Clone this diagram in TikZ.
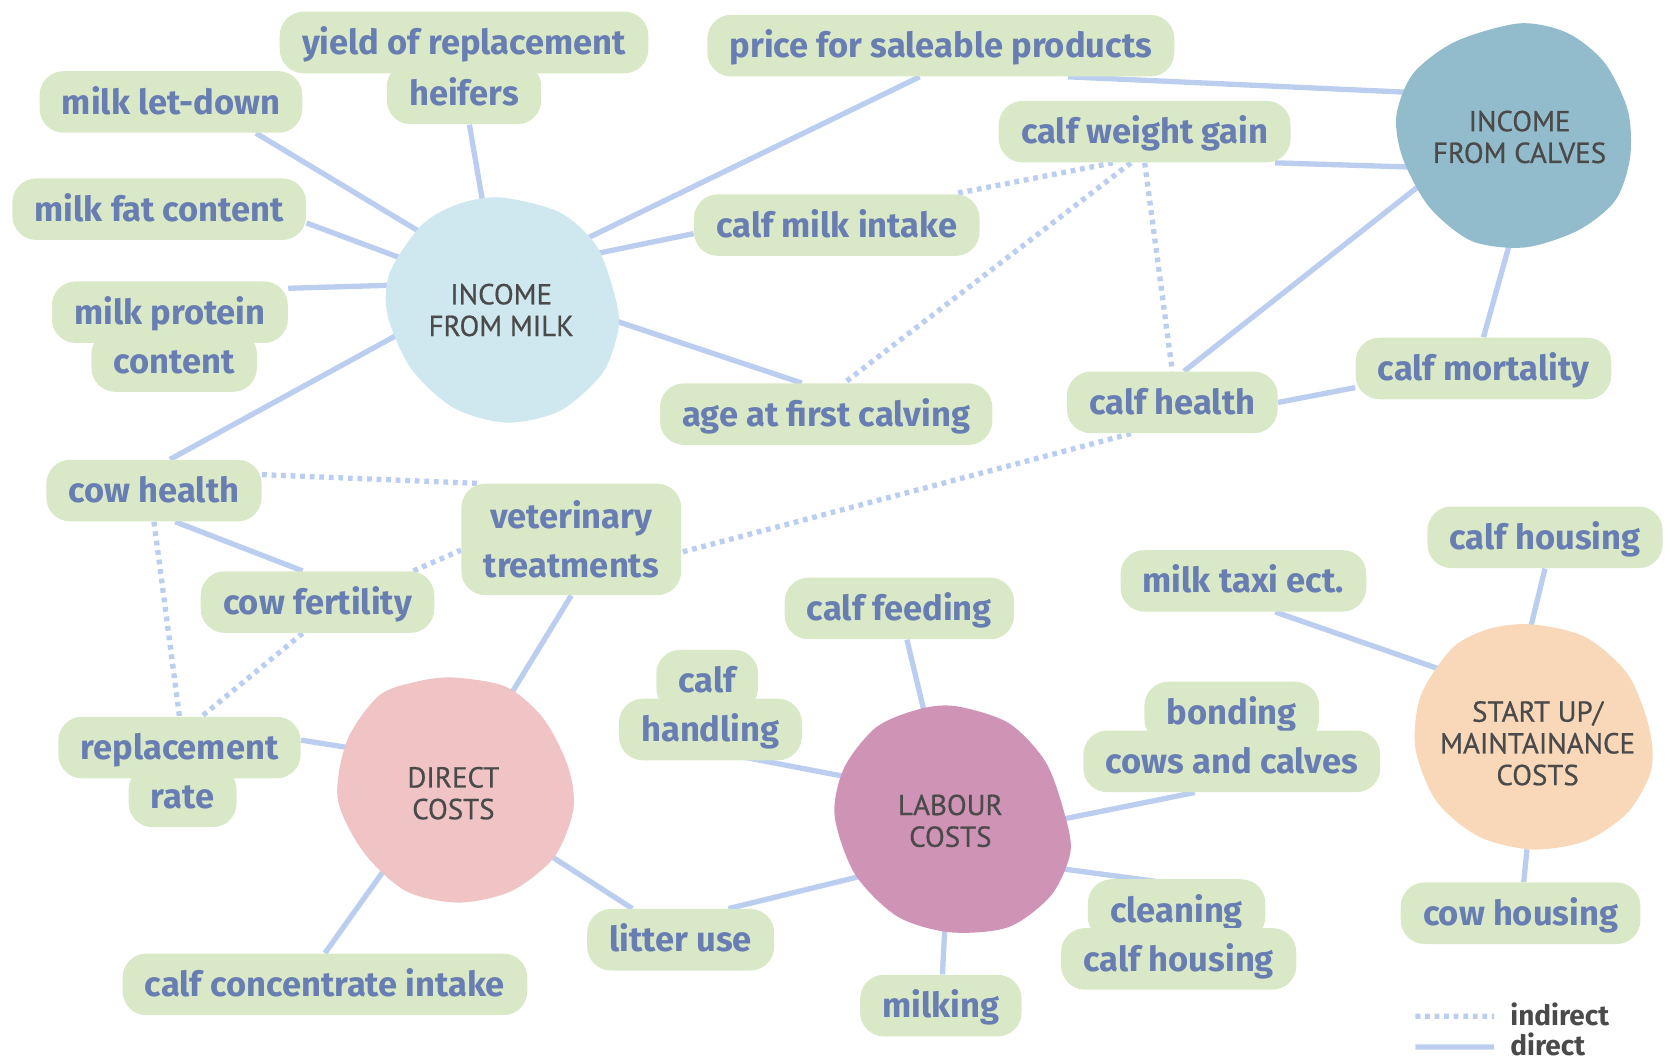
\documentclass[tikz,border=0pt]{standalone}
\usepackage{fontspec}
\setmainfont{Fira Sans}
\newfontfamily\lblfont{Fira Sans}
\newfontfamily\hubfont[FakeBold=0.6]{PT Sans}
\definecolor{lblgreen}{RGB}{217,232,198}
\definecolor{lbltext}{RGB}{104,125,178}
\definecolor{linkblue}{RGB}{187,206,240}
\definecolor{hubtext}{RGB}{74,74,74}
\definecolor{milkblue}{RGB}{207,231,239}
\definecolor{calfblue}{RGB}{146,188,203}
\definecolor{directpink}{RGB}{240,195,196}
\definecolor{labourmauve}{RGB}{207,147,181}
\definecolor{startpeach}{RGB}{248,216,185}
\pgfdeclarelayer{links}
\pgfdeclarelayer{blobs}
\pgfsetlayers{links,blobs,main}

\begin{document}
\begin{tikzpicture}
[x=0.02cm,y=-0.02cm,
lbl/.style={rounded corners=0.45cm,fill=lblgreen,text=lbltext,font=\lblfont\bfseries\fontsize{18.5pt}{26pt}\selectfont,minimum height=1.16cm,inner xsep=0.42cm,text height=15pt,text depth=2pt},
hub/.style={circle,minimum size=3.9cm,inner sep=0pt,align=center,text=hubtext,font=\hubfont\fontsize{15.5pt}{17pt}\selectfont},
direct/.style={linkblue,line width=0.1cm},
indirect/.style={linkblue,line width=0.1cm,dash pattern=on 0.09cm off 0.09cm},
legend/.style={text=hubtext,font=\bfseries\fontsize{15pt}{16pt}\selectfont,anchor=west,inner sep=0pt}]
\useasboundingbox (0,0) rectangle (1568,1001);
\node[hub] (milkinc) at (472,292) {INCOME\\FROM MILK};
\node[hub] (calfinc) at (1431,129) {INCOME\\FROM CALVES};
\node[hub] (dcost) at (427,747) {DIRECT\\COSTS};
\node[hub] (lcost) at (895,773) {LABOUR\\COSTS};
\node[hub] (scost) at (1448,700) {START UP/\\MAINTAINANCE\\COSTS};
\node[lbl] (mlet) at (161,96) {milk let-down};
\node[lbl] (mfat) at (150,197) {milk fat content};
\node[lbl] (mprot) at (160,294) {milk protein};
\node[lbl] (mprot2) at (164,340) {content};
\node[lbl] (yield) at (437,40) {yield of replacement};
\node[lbl] (yield2) at (437,88) {heifers};
\node[lbl] (price) at (886,43) {price for saleable products};
\node[lbl] (wgain) at (1078,124) {calf weight gain};
\node[lbl] (intake) at (788,212) {calf milk intake};
\node[lbl] (age) at (778,390) {age at first calving};
\node[lbl] (chealth) at (1104,379) {calf health};
\node[lbl] (cmort) at (1397,347) {calf mortality};
\node[lbl] (cowh) at (145,462) {cow health};
\node[lbl,align=center,minimum height=2.1cm,text height=,text depth=] (vet) at (538,508) {veterinary\\treatments};
\node[lbl] (fert) at (299,567) {cow fertility};
\node[lbl] (repl) at (169,704) {replacement};
\node[lbl] (repl2) at (172,750) {rate};
\node[lbl] (conc) at (306,927) {calf concentrate intake};
\node[lbl] (litter) at (641,885) {litter use};
\node[lbl] (handl) at (666,641) {calf};
\node[lbl] (handl2) at (669,687) {handling};
\node[lbl] (feed) at (847,573) {calf feeding};
\node[lbl] (milking) at (886,947) {milking};
\node[lbl] (bond) at (1160,671) {bonding};
\node[lbl] (bond2) at (1160,717) {cows and calves};
\node[lbl] (clean) at (1108,857) {cleaning};
\node[lbl] (clean2) at (1110,903) {calf housing};
\node[lbl] (taxi) at (1171,547) {milk taxi ect.};
\node[lbl] (chous) at (1455,506) {calf housing};
\node[lbl] (cowhous) at (1432,860) {cow housing};
\node[legend] (indlbl) at (1422,955) {indirect};
\node[legend] (dirlbl) at (1422,984) {direct};
\coordinate (ind0) at (1333,957);
\coordinate (dir0) at (1333,986);
\begin{pgfonlayer}{blobs}
\begin{scope}[shift={(milkinc)}]
\fill[milkblue] plot[smooth cycle] coordinates {(0,-106) (55,-92) (90,-60) (108,-10) (110,20) (95,60) (55,95) (5,106) (-45,92) (-85,55) (-107,5) (-105,-35) (-75,-80) (-40,-100)};
\end{scope}
\begin{scope}[shift={(calfinc)}]
\fill[calfblue] plot[smooth cycle] coordinates {(0,-107) (45,-98) (80,-70) (102,-25) (104,20) (90,60) (55,88) (5,104) (-45,98) (-85,66) (-110,20) (-116,-20) (-100,-60) (-60,-90)};
\end{scope}
\begin{scope}[shift={(dcost)}]
\fill[directpink] plot[smooth cycle] coordinates {(0,-109) (50,-100) (85,-70) (108,-25) (113,15) (95,60) (55,92) (5,103) (-45,92) (-85,55) (-109,5) (-100,-50) (-70,-92) (-35,-105)};
\end{scope}
\begin{scope}[shift={(lcost)}]
\fill[labourmauve] plot[smooth cycle] coordinates {(5,-108) (55,-92) (90,-55) (108,-5) (113,30) (95,70) (55,100) (0,105) (-50,90) (-90,50) (-109,-5) (-100,-50) (-70,-88) (-30,-105)};
\end{scope}
\begin{scope}[shift={(scost)}]
\fill[startpeach] plot[smooth cycle] coordinates {(-5,-112) (45,-100) (85,-65) (105,-15) (107,25) (85,65) (45,92) (-5,100) (-55,88) (-95,55) (-115,5) (-110,-45) (-80,-90) (-45,-108)};
\end{scope}
\end{pgfonlayer}
\begin{pgfonlayer}{links}
\foreach \from/\to in {yield2/milkinc,litter/dcost,feed/lcost,milking/lcost,cowhous/scost}
\draw[direct] (\from) -- (\to);
\draw[direct] ([xshift=1.6cm]mlet.south) -- (milkinc.135);
\draw[direct] ([yshift=-0.26cm]mfat.east) -- (milkinc.152);
\draw[direct] ([yshift=0.45cm]mprot.east) -- (milkinc.166);
\draw[direct] ([xshift=0.3cm]cowh.north) -- (milkinc.193);
\draw[direct] (milkinc.41) -- ([xshift=-0.4cm]price.south);
\draw[direct] ([yshift=-0.16cm]intake.west) -- (milkinc.32);
\draw[direct] ([xshift=-0.46cm]age.north) -- (milkinc.-4);
\draw[direct] ([xshift=2.4cm]price.south) -- (calfinc.155);
\draw[direct] ([xshift=-0.3cm]wgain.south east) -- (calfinc.197);
\draw[direct] ([xshift=0.22cm]chealth.north) -- (calfinc.205);
\draw[direct] (cmort.north) -- (calfinc.265);
\draw[direct] (chealth.east) -- ([yshift=-0.36cm]cmort.west);
\draw[direct] (vet.south) -- (dcost.60);
\draw[direct] ([yshift=0.14cm]repl.east) -- (dcost.155);
\draw[direct] (conc.north) -- (dcost.228);
\draw[direct] ([xshift=0.4cm]cowh.south) -- ([xshift=-0.28cm]fert.north);
\draw[direct] ([yshift=-0.4cm]handl2.center) -- (lcost.156);
\draw[direct] (lcost.0) -- ([xshift=-0.7cm]bond2.south);
\draw[direct] (lcost.-26) -- ([yshift=-0.1cm]clean.north);
\draw[direct] ([xshift=0.9cm]litter.north) -- (lcost.212);
\draw[direct] ([xshift=0.6cm]taxi.south) -- (scost.140);
\draw[direct] (chous.south) -- (scost.95);
\draw[indirect] ([xshift=-0.6cm]wgain.south) -- ([xshift=2.2cm]intake.north);
\draw[indirect] ([xshift=-0.26cm]wgain.south) -- ([xshift=0.34cm]age.north);
\draw[indirect] (wgain.south) -- (chealth.north);
\draw[indirect] ([xshift=-0.78cm]chealth.south) -- ([yshift=-0.24cm]vet.east);
\draw[indirect] ([yshift=0.3cm]cowh.east) -- ([xshift=0.3cm]vet.north west);
\draw[indirect] (cowh.south) -- (repl.north);
\draw[indirect] ([xshift=-0.28cm]fert.south) -- ([xshift=0.42cm]repl.north);
\draw[indirect] ([xshift=-0.4cm]fert.north east) -- ([yshift=-0.2cm]vet.west);
\end{pgfonlayer}
\draw[indirect] (ind0) -- ([xshift=-0.3cm,yshift=-0.04cm]indlbl.west);
\draw[direct] (dir0) -- ([xshift=-0.3cm,yshift=-0.04cm]dirlbl.west);
\end{tikzpicture}
\end{document}
